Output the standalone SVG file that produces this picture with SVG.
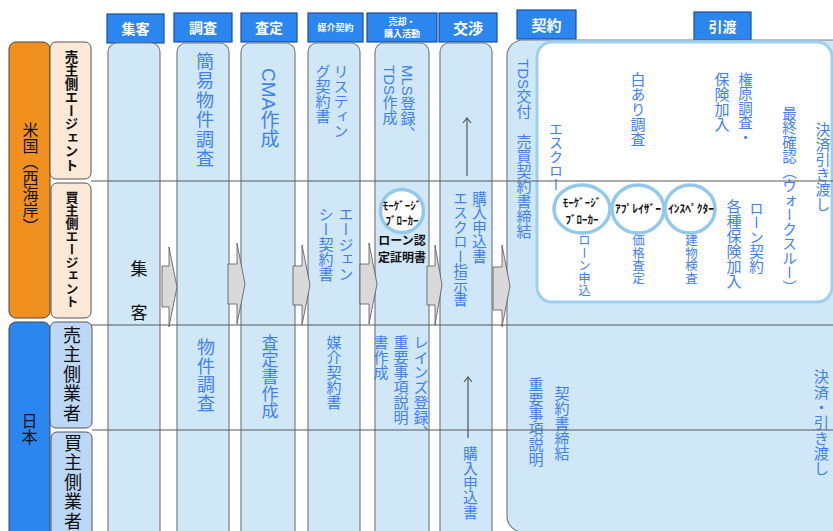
<svg xmlns="http://www.w3.org/2000/svg" width="833" height="531" viewBox="0 0 833 531">
<style>
.hd{fill:#2b86ef;stroke:#1d4f9c;stroke-width:1.2}
.ht{fill:#fff;font-family:"Noto Sans CJK JP","Liberation Sans",sans-serif;font-weight:bold;text-anchor:middle}
.col{fill:#cfe7f6;stroke:#7d7d7d;stroke-width:1.2}
.v{font-family:"Liberation Sans","Noto Sans CJK JP",sans-serif;writing-mode:vertical-rl;fill:#3f80f5}
.k{fill:#111}
.b{font-weight:bold}
.arr{fill:#d9d9d9;stroke:#555;stroke-width:0.8}
.ln{stroke:#5a5a5a;stroke-width:1.2;fill:none}
.cir{fill:#fff;stroke:#92c9ea;stroke-width:3.5}
.ct{font-family:"Noto Sans CJK JP",sans-serif;font-weight:bold;fill:#111;text-anchor:middle}
</style>
<defs>
<marker id="open" markerWidth="10" markerHeight="10" refX="9" refY="5" orient="auto" markerUnits="userSpaceOnUse" viewBox="0 0 10 10">
<path d="M4,1 L9,5 L4,9" fill="none" stroke="#555" stroke-width="1.2"/>
</marker>
</defs>
<rect width="833" height="531" fill="#fff"/>

<!-- row labels -->
<g id="usa">
<rect x="9" y="42" width="41" height="276" rx="7" fill="#f0901f" stroke="#444" stroke-width="1"/>
<text class="v k" x="29" y="122" font-size="16">米国（西海岸）</text>
</g>
<g id="usa-seller">
<rect x="50" y="42" width="41" height="137" rx="6" fill="#fce8d7" stroke="#555" stroke-width="1"/>
<text class="v k b" x="70" y="50" font-size="13.5">売主側エージェント</text>
</g>
<g id="usa-buyer">
<rect x="51" y="183" width="40" height="135" rx="6" fill="#fce8d7" stroke="#555" stroke-width="1"/>
<text class="v k b" x="71" y="191" font-size="13">買主側エージェント</text>
</g>
<g id="japan">
<rect x="9" y="322" width="41" height="230" rx="7" fill="#2b86ef" stroke="#444" stroke-width="1"/>
<text class="v k" x="28" y="413" font-size="16">日本</text>
</g>
<g id="jp-seller">
<rect x="50" y="322" width="42" height="106" rx="6" fill="#bcd8f6" stroke="#555" stroke-width="1"/>
<text class="v k" x="70" y="326" font-size="18" letter-spacing="1.5">売主側業者</text>
</g>
<g id="jp-buyer">
<rect x="51" y="432" width="41" height="120" rx="6" fill="#bcd8f6" stroke="#555" stroke-width="1"/>
<text class="v k" x="71" y="434" font-size="18" letter-spacing="1.5">買主側業者</text>
</g>

<!-- columns -->
<g id="col-shukyaku">
<rect class="hd" x="107" y="14" width="57" height="29"/>
<text class="ht" x="135.5" y="34" font-size="14">集客</text>
<rect class="col" x="108" y="43" width="52" height="510" rx="9"/>
<text class="v k" x="137" y="260" font-size="17" letter-spacing="27">集客</text>
</g>
<g id="col-chosa">
<rect class="hd" x="174" y="13" width="58" height="29"/>
<text class="ht" x="203" y="33" font-size="14">調査</text>
<rect class="col" x="177" y="43" width="52" height="510" rx="9"/>
<text class="v" x="203" y="52" font-size="18" letter-spacing="1.5">簡易物件調査</text>
<text class="v" x="204" y="338" font-size="18" letter-spacing="0.7">物件調査</text>
</g>
<g id="col-satei">
<rect class="hd" x="241" y="13" width="56" height="29"/>
<text class="ht" x="269" y="33" font-size="14">査定</text>
<rect class="col" x="241" y="43" width="54" height="510" rx="9"/>
<text class="v" x="268" y="68" font-size="19">CMA作成</text>
<text class="v" x="268" y="334" font-size="17">査定書作成</text>
</g>
<g id="col-baikai">
<rect class="hd" x="308" y="13" width="55" height="29"/>
<text class="ht" x="335.5" y="31" font-size="9">媒介契約</text>
<rect class="col" x="308" y="43" width="52" height="510" rx="9"/>
<text class="v" x="340" y="64" font-size="15">リスティン</text>
<text class="v" x="322" y="64" font-size="15">グ契約書</text>
<text class="v" x="345" y="207" font-size="15">エージェン</text>
<text class="v" x="325" y="207" font-size="15">シー契約書</text>
<text class="v" x="333" y="335" font-size="15">媒介契約書</text>
</g>
<g id="col-katsudo">
<rect class="hd" x="367" y="13" width="70" height="29"/>
<text class="ht" x="402" y="25" font-size="9">売却・</text>
<text class="ht" x="402" y="37" font-size="9">購入活動</text>
<rect class="col" x="375" y="43" width="54" height="510" rx="9"/>
<text class="v" x="407" y="65" font-size="15">MLS登録、</text>
<text class="v" x="389" y="65" font-size="15">TDS作成</text>
<text class="v" x="420" y="335" font-size="15">レインズ登録、</text>
<text class="v" x="400" y="335" font-size="15">重要事項説明</text>
<text class="v" x="380" y="335" font-size="15">書作成</text>
</g>
<g id="col-kosho">
<rect class="hd" x="439" y="13" width="58" height="29"/>
<text class="ht" x="468" y="34" font-size="15">交渉</text>
<rect class="col" x="440" y="43" width="52" height="510" rx="9"/>
<text class="v" x="478" y="191" font-size="14.5">購入申込書</text>
<text class="v" x="459" y="191" font-size="14.5">エスクロー指示書</text>
<text class="v" x="469" y="446" font-size="14.8">購入申込書</text>
</g>
<g id="col-keiyaku">
<rect class="hd" x="517" y="10" width="59" height="29"/>
<rect class="hd" x="694" y="12" width="57" height="28"/>
<text class="ht" x="546.5" y="31" font-size="15">契約</text>
<text class="ht" x="722.5" y="32" font-size="14">引渡</text>
<rect class="col" x="507" y="40" width="345" height="492" rx="16"/>
<text class="v" x="523" y="59" font-size="15">TDS交付　売買契約書締結</text>
<text class="v" x="535" y="377" font-size="15">重要事項説明</text>
<text class="v" x="561" y="386" font-size="15">契約書締結</text>
<text class="v" x="820" y="369" font-size="15.3">決済・引き渡し</text>
</g>
<g id="us-closing-box">
<rect x="537" y="42" width="295" height="260" rx="15" fill="#fff" stroke="#9dcff0" stroke-width="3"/>
<text class="v" x="555" y="122" font-size="14">エスクロー</text>
<text class="v" x="637" y="72" font-size="15">白あり調査</text>
<text class="v" x="744" y="72" font-size="14.5">権原調査・</text>
<text class="v" x="721" y="72" font-size="15">保険加入</text>
<text class="v" x="788" y="106" font-size="14.5">最終確認（ウォークスルー）</text>
<text class="v" x="822" y="122" font-size="15">決済引き渡し</text>
<text class="v" x="733" y="199" font-size="15">各種保険加入</text>
<text class="v" x="755" y="201" font-size="14.5">ローン契約</text>
<text class="v" x="583" y="234" font-size="12.5">ローン申込</text>
<text class="v" x="637" y="234" font-size="12.5">価格査定</text>
<text class="v" x="690" y="234" font-size="12.5">建物検査</text>
</g>

<!-- connectors -->
<g id="connectors">
<line class="ln" x1="91" y1="181" x2="833" y2="181"/>
<line class="ln" x1="91" y1="325" x2="833" y2="325"/>
<line class="ln" x1="92" y1="430" x2="833" y2="430"/>
<path class="arr" d="M162,266 H169 V247 L177,287 L169,327 V307 H162 Z"/>
<path class="arr" d="M228,264 H237 V243 L245,284 L237,324 V304 H228 Z"/>
<path class="arr" d="M293,266 H302 V245 L310,285 L302,325 V305 H293 Z"/>
<path class="arr" d="M360,264 H369 V243 L377,284 L369,324 V304 H360 Z"/>
<path class="arr" d="M427,266 H435 V245 L442,285 L435,325 V305 H427 Z"/>
<path class="arr" d="M493,267 H502 V245 L510,286 L502,327 V310 H493 Z"/>
<line x1="467" y1="176" x2="467" y2="118" stroke="#555" stroke-width="1.2" marker-end="url(#open)"/>
<line x1="468" y1="438" x2="468" y2="377" stroke="#555" stroke-width="1.2" marker-end="url(#open)"/>
</g>

<!-- role circles -->
<g id="mortgage-broker-1">
<circle class="cir" cx="402" cy="211" r="21.5"/>
<text class="ct" x="402" y="210" font-size="11">ﾓｰｹﾞｰｼﾞ</text>
<text class="ct" x="402" y="225" font-size="11">ﾌﾞﾛｰｶｰ</text>
<text class="ct" x="402" y="245" font-size="12">ローン認</text>
<text class="ct" x="402" y="262" font-size="12">定証明書</text>
</g>
<g id="mortgage-broker-2">
<ellipse class="cir" cx="582" cy="209" rx="28" ry="24"/>
<text class="ct" x="582" y="207" font-size="11">ﾓｰｹﾞｰｼﾞ</text>
<text class="ct" x="582" y="224" font-size="11">ﾌﾞﾛｰｶｰ</text>
</g>
<g id="appraiser">
<ellipse class="cir" cx="638" cy="209" rx="26" ry="24"/>
<text class="ct" x="638" y="213" font-size="11.5">ｱﾌﾟﾚｲｻﾞｰ</text>
</g>
<g id="inspector">
<ellipse class="cir" cx="690" cy="209" rx="25" ry="24"/>
<text class="ct" x="691" y="213" font-size="11.5">ｲﾝｽﾍﾟｸﾀｰ</text>
</g>
</svg>
